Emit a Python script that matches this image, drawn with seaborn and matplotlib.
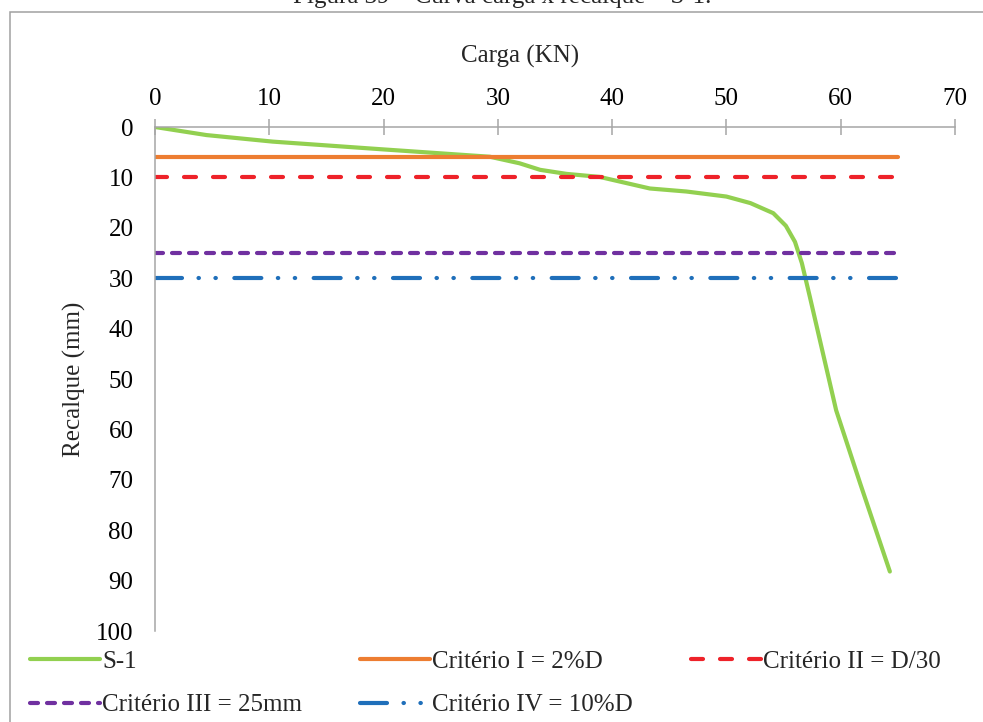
import matplotlib
matplotlib.use("Agg")
import matplotlib.pyplot as plt
import seaborn as sns
import pandas as pd
from matplotlib.patches import Rectangle

# ---- data ----
carga = [0, 4.5, 10.3, 19.7, 29.3, 31.9, 33.7, 36.0, 38.9, 43.3, 46.5, 50.0,
         52.1, 54.1, 55.2, 56.0, 56.6, 57.3, 59.6, 61.7, 64.3]
recalque = [0, 1.6, 2.9, 4.4, 5.9, 7.2, 8.5, 9.3, 9.9, 12.2, 12.8, 13.8,
            15.1, 17.1, 19.6, 22.8, 27.0, 33.7, 56.2, 70.7, 88.2]
criterio_nomes = ["Critério I = 2%D", "Critério II = D/30",
                  "Critério III = 25mm", "Critério IV = 10%D"]
criterio_valores = [6, 10, 25, 30]
criterio_x = [0, 65]
x_ticks = [0, 10, 20, 30, 40, 50, 60, 70]
y_ticks = [0, 10, 20, 30, 40, 50, 60, 70, 80, 90, 100]

sns.set_style("white")
plt.rcParams["font.family"] = ["Liberation Serif", "DejaVu Serif"]
plt.rcParams["lines.scale_dashes"] = False

FS = 18
GRAY = "#A6A6A6"
W, H = 983, 722
fig = plt.figure(figsize=(W / 100, H / 100), dpi=100)
ax = fig.add_axes([155 / W, 1 - 631 / H, 800 / W, 504 / H])

px = 0.72  # points per pixel
styles = [
    dict(color="#ED7D31", dashes=None),
    dict(color="#EE2229", dashes=(0, (12 * px, 17 * px))),
    dict(color="#7030A0", dashes=(0, (8 * px, 9 * px))),
    dict(color="#1F6FBA", dashes=(0, (27 * px, 16.5 * px, 0.3, 16.5 * px, 0.3, 18.5 * px))),
]

handles = {}
df = pd.DataFrame({"Carga": carga, "Recalque": recalque})
sns.lineplot(data=df, x="Carga", y="Recalque", sort=False, ax=ax,
             color="#92D050", lw=3.0, label="S-1", solid_capstyle="round",
             solid_joinstyle="round")
handles["S-1"] = ax.get_lines()[-1]

for nome, val, st in zip(criterio_nomes, criterio_valores, styles):
    d = pd.DataFrame({"x": criterio_x, "y": [val, val]})
    kw = dict(color=st["color"], lw=3.0, label=nome,
              solid_capstyle="round", dash_capstyle="round")
    sns.lineplot(data=d, x="x", y="y", ax=ax, **kw)
    ln = ax.get_lines()[-1]
    if st["dashes"] is not None:
        ln.set_linestyle(st["dashes"])
    handles[nome] = ln

ax.set_xlim(0, 70)
ax.set_ylim(100, 0)
ax.set_xticks(x_ticks)
ax.set_yticks(y_ticks)
ax.xaxis.tick_top()
ax.xaxis.set_label_position("top")
ax.tick_params(axis="x", direction="inout", length=11, width=1.1, color=GRAY,
               labelsize=FS, pad=7, labelcolor="#000000")
ax.tick_params(axis="y", direction="inout", length=11, width=1.1, color=GRAY,
               labelsize=FS, pad=10, labelcolor="#000000")
for s in ["right", "bottom"]:
    ax.spines[s].set_visible(False)
for s in ["top", "left"]:
    ax.spines[s].set_color(GRAY)
    ax.spines[s].set_linewidth(1.1)

ax.set_xlabel("Carga (KN)", fontsize=FS)
ax.set_ylabel("Recalque (mm)", fontsize=FS)
ax.xaxis.set_label_coords((520 - 155) / 800, (631 - 63) / 504)
ax.yaxis.set_label_coords((86 - 155) / 800, 0.5)

if ax.get_legend() is not None:
    ax.get_legend().remove()

order = ["S-1", "Critério III = 25mm", "Critério I = 2%D",
         "Critério IV = 10%D", "Critério II = D/30"]
fig.legend([handles[k] for k in order], order, ncol=3, frameon=False,
           loc="upper left", bbox_to_anchor=(30 / W, 1 - 650 / H),
           borderpad=0, borderaxespad=0, handlelength=2.8,
           handletextpad=0.1, columnspacing=2.3, labelspacing=0.85,
           fontsize=FS)

# figure border (cut off at right and bottom)
fig.patches.append(Rectangle((10 / W, -0.05), 1.2, 1 - 11.5 / H + 0.05,
                             transform=fig.transFigure, fill=False,
                             edgecolor="#A0A0A0", lw=1.1))
fig.text(502 / W, 1 - 3.5 / H, "Figura 39 – Curva carga x recalque – S-1.",
         ha="center", va="baseline", fontsize=FS)

fig.savefig("out.png", dpi=100)
